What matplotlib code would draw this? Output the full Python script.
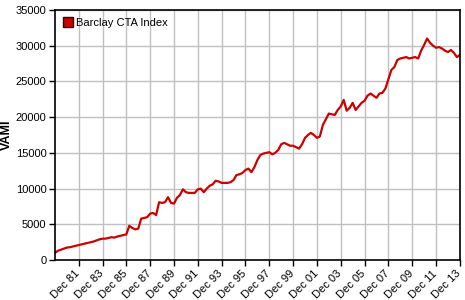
import matplotlib
matplotlib.use('Agg')
import matplotlib.pyplot as plt
import matplotlib.transforms as mtransforms
from matplotlib.lines import Line2D
import pandas as pd

plt.rcParams['font.family'] = ['Liberation Sans', 'DejaVu Sans']

# quarter-end VAMI values, Dec 1979 .. Dec 2013
vami = [
    1000,
    1300, 1450, 1600, 1750,     # 1980
    1800, 1900, 2000, 2100,     # 1981
    2200, 2300, 2400, 2500,     # 1982
    2600, 2750, 2900, 3000,     # 1983
    3000, 3100, 3200, 3150,     # 1984
    3300, 3400, 3500, 3600,     # 1985
    4800, 4500, 4300, 4400,     # 1986
    5800, 5900, 6000, 6500,     # 1987
    6600, 6300, 8100, 8000,     # 1988
    8100, 8800, 8000, 7900,     # 1989
    8700, 9100, 9900, 9500,     # 1990
    9400, 9400, 9400, 9900,     # 1991
    10000, 9500, 10000, 10400,  # 1992
    10600, 11100, 11000, 10800,  # 1993
    10800, 10800, 10900, 11200,  # 1994
    11900, 12000, 12200, 12600,  # 1995
    12800, 12300, 13000, 14000,  # 1996
    14700, 14900, 15000, 15100,  # 1997
    14800, 15000, 15400, 16200,  # 1998
    16400, 16200, 16000, 16000,  # 1999
    15800, 15600, 16200, 17100,  # 2000
    17500, 17800, 17500, 17100,  # 2001
    17300, 18900, 19700, 20500,  # 2002
    20400, 20300, 21000, 21500,  # 2003
    22400, 20900, 21300, 22000,  # 2004
    21000, 21500, 22000, 22300,  # 2005
    23000, 23300, 23000, 22700,  # 2006
    23300, 23400, 24000, 25300,  # 2007
    26600, 27000, 28000, 28200,  # 2008
    28300, 28400, 28200, 28300,  # 2009
    28400, 28200, 29300, 30100,  # 2010
    31000, 30400, 30000, 29700,  # 2011
    29800, 29600, 29300, 29100,  # 2012
    29400, 29000, 28400, 28700,  # 2013
]
dates = pd.date_range('1979-12-31', '2013-12-31', freq='QE')

tick_dates = pd.date_range('1981-12-31', '2013-12-31', freq='24ME')
tick_labels = [d.strftime('Dec %y') for d in tick_dates]

fig = plt.figure(figsize=(4.65, 3.0), dpi=100)
ax = fig.add_axes([0.118, 0.133, 0.871, 0.834])

ax.plot(dates, vami, color='#cc0000', linewidth=1.6)

ax.set_xlim(pd.Timestamp('1979-12-31'), pd.Timestamp('2013-12-31'))
ax.set_ylim(0, 35000)
ax.set_yticks(range(0, 35001, 5000))
ax.set_xticks(tick_dates)
ax.set_xticklabels(tick_labels, rotation=45, ha='right', rotation_mode='anchor')
ax.tick_params(labelsize=8, length=4, width=1, color='black', pad=2)
# nudge the rotated labels left so the last one stays inside the picture
shift = mtransforms.ScaledTranslation(-4 / 100, 0, fig.dpi_scale_trans)
for lab in ax.get_xticklabels():
    lab.set_transform(lab.get_transform() + shift)
ax.grid(True, color='#c0c0c0', linewidth=1)
ax.set_axisbelow(True)
for s in ax.spines.values():
    s.set_linewidth(1.2)

ax.set_ylabel('VAMI', fontsize=9, fontweight='bold', labelpad=2)

handle = Line2D([], [], marker='s', linestyle='none', markersize=7,
                markerfacecolor='#cc0000', markeredgecolor='#330000')
ax.legend([handle], ['Barclay CTA Index'], loc='upper left', frameon=False,
          fontsize=8, handletextpad=0.2, borderaxespad=0.3, handlelength=1.0)

fig.savefig('out.png', dpi=100)
